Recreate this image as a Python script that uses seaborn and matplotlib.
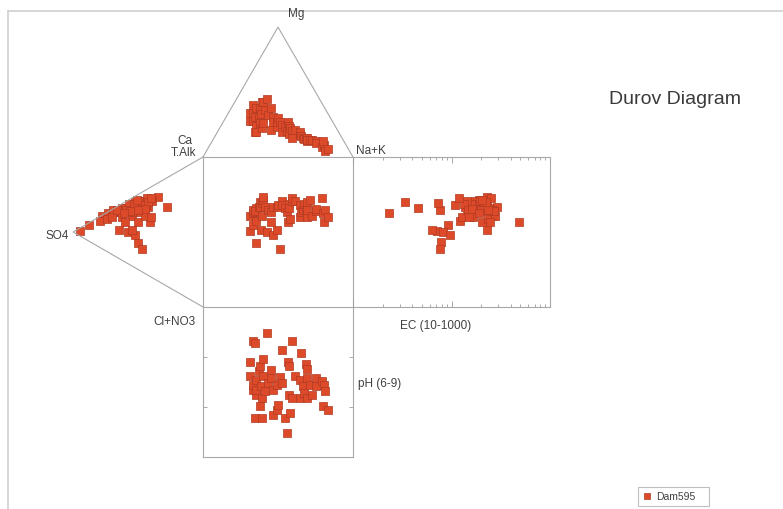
import numpy as np
import pandas as pd
import matplotlib
matplotlib.use("Agg")
import matplotlib.pyplot as plt
import seaborn as sns
from matplotlib.lines import Line2D

# Water samples, Dam595 (percent of meq; Ca and HCO3 are the complements)
mg = [28, 34, 34, 40, 28, 31, 38, 24, 19, 19, 30, 38, 33, 26, 42, 22, 42, 26, 36, 45,
      32, 38, 21, 31, 27, 23, 27, 30, 27, 25, 19, 23, 27, 20, 18, 24, 22, 20, 15, 21,
      17, 19, 16, 15, 14, 15, 12, 15, 13, 13, 13, 12, 11, 8, 9, 12, 5, 6]
na_k = [17, 14, 16, 13, 19, 19, 16, 23, 25, 26, 22, 19, 22, 25, 18, 28, 19, 27, 23, 20,
        27, 26, 35, 31, 33, 38, 36, 35, 38, 40, 43, 43, 43, 46, 48, 45, 47, 49, 52, 51,
        56, 55, 57, 59, 60, 61, 63, 62, 63, 65, 66, 69, 70, 75, 76, 74, 79, 80]
so4 = [95, 78, 88, 73, 69, 65, 62, 79, 58, 50, 56, 52, 65, 48, 45, 55, 41, 35, 42, 58,
       46, 51, 50, 52, 28, 55, 54, 50, 47, 47, 44, 60, 41, 63, 57, 52, 74, 49, 43, 39,
       46, 62, 55, 59, 53, 48, 70, 42, 66, 51, 45, 56, 45, 40, 60, 61, 50, 40]
cl_no3 = [2, 0, 1, 1, 1, 4, 3, 3, 7, 32, 5, 4, 16, 9, 8, 12, 8, 9, 12, 21,
          12, 11, 18, 26, 19, 21, 6, 7, 38, 6, 10, 4, 23, 5, 3, 8, 4, 5, 6, 10,
          9, 9, 9, 6, 5, 11, 5, 9, 2, 3, 17, 8, 12, 7, 13, 7, 10, 20]
ec = [71, 263, 92, 23, 76, 154, 46, 122, 195, 78, 290, 34, 64, 212, 73, 144, 188, 229, 168, 82,
      222, 246, 204, 97, 138, 229, 185, 229, 76, 173, 108, 240, 484, 181, 158, 207, 234, 196, 252, 142,
      215, 128, 176, 260, 133, 198, 165, 226, 148, 205, 276, 270, 163, 118, 246, 192, 236, 150]
ph = [7.91, 7.62, 7.34, 8.33, 7.44, 8.29, 7.54, 7.24, 6.79, 7.34, 7.72, 7.82, 7.42, 7.03, 7.18,
      6.79, 7.97, 7.62, 7.32, 8.49, 7.48, 7.74, 7.58, 7.34, 6.85, 7.44, 6.95, 7.05, 7.60, 8.13,
      7.48, 6.79, 7.91, 6.49, 7.82, 7.24, 6.89, 8.33, 7.18, 7.62, 7.54, 7.18, 8.09, 7.42, 7.28,
      7.86, 7.76, 7.58, 7.18, 7.44, 7.24, 7.58, 7.42, 7.52, 7.44, 7.03, 7.32, 6.95]
series_name = "Dam595"

sns.set_theme(style="white")
plt.rcParams['font.family'] = ['Liberation Sans', 'DejaVu Sans']

df = pd.DataFrame(dict(mg=mg, na_k=na_k, so4=so4, cl_no3=cl_no3, ec=ec, ph=ph))
df["ca"] = 100 - df.mg - df.na_k
df["hco3"] = 100 - df.so4 - df.cl_no3
H = np.sqrt(3) / 2
# cation triangle (Ca left, Na+K right, Mg top) and its projection onto the square
df["cat_x"] = (df.na_k + df.mg / 2) / 100
df["cat_h"] = df.mg / 100 * H
# anion triangle (T.Alk top, Cl+NO3 bottom, SO4 left) and its projection
df["an_d"] = (df.cl_no3 + df.so4 / 2) / 100
df["an_x"] = -df.so4 / 100 * H
df["an_y"] = -df.an_d
df["sq_y"] = -df.an_d

W, HP = 783, 509
S = 150.0          # pixels per unit of the diagram
ox, oy = 203, 157  # top-left corner of the central square

fig = plt.figure(figsize=(W / 100, HP / 100), dpi=100)
fig.patch.set_facecolor("white")

def fx(px):
    return px / W

def fy(py):
    return 1 - py / HP

LINE = "#a8a8a8"
TXT = "#404040"
FILL = "#dc4a2a"
EDGE = "#b03a22"
mk = dict(marker="s", s=27, color=FILL, edgecolor=EDGE, linewidth=0.5)

# outer page frame
fig.add_artist(Line2D([fx(8), fx(8)], [fy(11), 0], transform=fig.transFigure, color="#cfcfcf", lw=1.2))
fig.add_artist(Line2D([fx(8), 1], [fy(11), fy(11)], transform=fig.transFigure, color="#cfcfcf", lw=1.2))

# main axes: triangles and square in diagram units
ax = fig.add_axes([0, 0, 1, 1])
ax.set_xlim(-ox / S, (W - ox) / S)
ax.set_ylim(-(HP - oy) / S, oy / S)
ax.axis("off")
ax.patch.set_alpha(0)

ax.plot([0, 0.5, 1], [0, H, 0], color=LINE, lw=0.8)
ax.plot([0, -H, 0], [0, -0.5, -1], color=LINE, lw=0.8)
ax.plot([0, 1, 1, 0, 0], [0, 0, -1, -1, 0], color=LINE, lw=0.8)

sns.scatterplot(data=df, x="cat_x", y="cat_h", ax=ax, legend=False, clip_on=False, **mk)
sns.scatterplot(data=df, x="an_x", y="an_y", ax=ax, legend=False, clip_on=False, **mk)
sns.scatterplot(data=df, x="cat_x", y="sq_y", ax=ax, legend=False, clip_on=False, **mk)

# EC panel (log scale), sharing the anion position
ax_ec = fig.add_axes([fx(353), fy(oy + S), 197 / W, S / HP])
ax_ec.set_xscale("log")
ax_ec.set_xlim(10, 1000)
ax_ec.set_ylim(1, 0)
sns.scatterplot(data=df, x="ec", y="an_d", ax=ax_ec, legend=False, clip_on=False, **mk)

# pH panel, sharing the cation position
ax_ph = fig.add_axes([fx(ox), fy(oy + 2 * S), S / W, S / HP])
ax_ph.set_xlim(0, 1)
ax_ph.set_ylim(6, 9)
sns.scatterplot(data=df, x="cat_x", y="ph", ax=ax_ph, legend=False, clip_on=False, **mk)

for a in (ax_ec, ax_ph):
    a.set_facecolor("none")
    a.set_xlabel("")
    a.set_ylabel("")
    for sp in a.spines.values():
        sp.set_color(LINE)
        sp.set_linewidth(0.8)

ax_ec.spines["left"].set_visible(False)
ax_ec.tick_params(axis="x", which="both", direction="in", top=True, bottom=True,
                  labelbottom=False, color="#9a9a9a", width=0.6)
ax_ec.tick_params(axis="x", which="major", length=4)
ax_ec.tick_params(axis="x", which="minor", length=2.5)
ax_ec.set_yticks([])

ax_ph.spines["top"].set_visible(False)
ax_ph.set_xticks([])
ax_ph.set_yticks([7, 8])
ax_ph.tick_params(axis="y", direction="in", left=True, right=True, labelleft=False,
                  length=3, color="#9a9a9a", width=0.6)

# corner and panel labels
fs = 8.5
fig.text(fx(288), fy(14), "Mg", ha="left", va="center", fontsize=fs, color=TXT)
fig.text(fx(192), fy(141), "Ca", ha="right", va="center", fontsize=fs, color=TXT)
fig.text(fx(196), fy(153), "T.Alk", ha="right", va="center", fontsize=fs, color=TXT)
fig.text(fx(356), fy(151), "Na+K", ha="left", va="center", fontsize=fs, color=TXT)
fig.text(fx(69), fy(236), "SO4", ha="right", va="center", fontsize=fs, color=TXT)
fig.text(fx(196), fy(322), "Cl+NO3", ha="right", va="center", fontsize=fs, color=TXT)
fig.text(fx(436), fy(326), "EC (10-1000)", ha="center", va="center", fontsize=fs, color=TXT)
fig.text(fx(358), fy(384), "pH (6-9)", ha="left", va="center", fontsize=fs, color=TXT)
fig.text(fx(609), fy(99), "Durov Diagram", ha="left", va="center", fontsize=14, color="#3a3a3a")

handle = Line2D([], [], marker="s", linestyle="none", markersize=5,
                markerfacecolor=FILL, markeredgecolor=EDGE, markeredgewidth=0.5)
leg = fig.legend([handle], [series_name], loc="upper left", mode="expand",
                 bbox_to_anchor=(fx(638), fy(509), 71 / W, 22 / HP), frameon=True, fancybox=False,
                 fontsize=7.5, handlelength=0.8, handletextpad=0.5, borderpad=0.45,
                 borderaxespad=0)
leg.get_frame().set_edgecolor("#b0b0b0")
leg.get_frame().set_linewidth(0.8)
for t in leg.get_texts():
    t.set_color(TXT)

fig.savefig("out.png", dpi=100)
